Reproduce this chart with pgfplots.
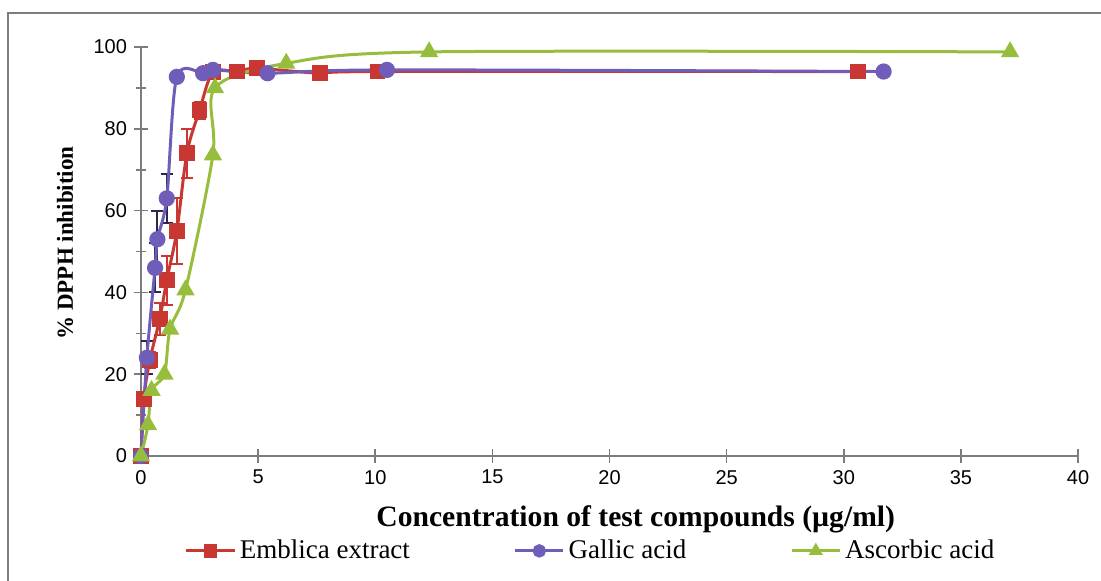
\documentclass[border=0pt]{standalone}
\usepackage{pgfplots}
\pgfplotsset{compat=1.18}
\usepackage{fontspec}
\setmainfont{Liberation Serif}
\newfontfamily\sansf{Liberation Sans}
\definecolor{cR}{RGB}{200,55,50}
\definecolor{cP}{RGB}{112,92,185}
\definecolor{cG}{RGB}{150,190,60}
\definecolor{cE}{RGB}{40,40,80}
\definecolor{axgray}{RGB}{125,125,125}
\begin{document}
\begin{tikzpicture}
\begin{axis}[
  at={(70.5pt,62pt)}, anchor=south west,
  scale only axis, width=468.5pt, height=204.5pt,
  xmin=0, xmax=40, ymin=0, ymax=100,
  axis x line=bottom, axis y line=left,
  axis line style={-, axgray, line width=0.8pt},
  xtick={0,5,...,40}, ytick={0,20,...,100}, minor ytick={10,30,...,90},
  tick align=center, major tick length=7pt, minor tick length=5pt,
  every tick/.style={axgray, line width=0.8pt},
  /pgf/number format/assume math mode=true,
  ticklabel style={font=\sansf\fontsize{10}{12}\selectfont, text=black},
  xlabel={\bfseries Concentration of test compounds (µg/ml)},
  ylabel={\bfseries \% DPPH inhibition},
  xlabel style={at={(axis description cs:0.528,-0.154)}, anchor=center, font=\fontsize{14.8}{17}\selectfont},
  ylabel style={at={(axis description cs:-0.0811,0.521)}, anchor=center, font=\fontsize{11.5}{14}\selectfont},
  legend columns=3,
  legend style={at={(axis description cs:0.481,-0.232)}, anchor=center, draw=none, fill=none,
    font=\fontsize{13.5}{15}\selectfont,
    /tikz/every even column/.append style={column sep=50pt}},
  legend image code/.code={\draw[mark repeat=2,mark phase=2,mark size=2.6pt] plot coordinates {(0cm,0cm)(0.42cm,0cm)(0.84cm,0cm)};},
  clip=false,
]
% error bars (only points with non-zero error)
\addplot[draw=none, forget plot, error bars/.cd, y dir=both, y explicit,
  error bar style={cR, line width=1pt}, error mark options={cR, line width=1pt, mark size=3pt, rotate=90}]
  table[x=x, y=y, y error=e] {
x y e
0.12 14 1.5
0.38 23.5 2
0.8 33.5 4
1.1 43 6
1.53 55 8
1.96 74 6
2.5 84.5 2
};
\addplot[draw=none, forget plot, error bars/.cd, y dir=both, y explicit,
  error bar style={cE, line width=1pt}, error mark options={cE, line width=1pt, mark size=3pt, rotate=90}]
  table[x=x, y=y, y error=e] {
x y e
0.25 24 4
0.6 46 6
0.7 53 7
1.1 63 6
};
\addplot[cR, line width=1.5pt, smooth, mark=square*, mark size=3.2pt, mark options={fill=cR, draw=cR}]
  table {
x y
0 0
0.12 14
0.38 23.5
0.8 33.5
1.1 43
1.53 55
1.96 74
2.5 84.5
3.07 93.8
4.1 94
4.95 94.8
7.64 93.6
10.1 94
30.6 94
};
\addlegendentry{Emblica extract}
\addplot[cP, line width=1.5pt, smooth, mark=*, mark size=3.3pt, mark options={fill=cP, draw=cP}]
  table {
x y
0 0
0.25 24
0.6 46
0.7 53
1.1 63
1.53 92.7
2.65 93.6
3.07 94.4
5.4 93.6
10.5 94.4
31.7 94
};
\addlegendentry{Gallic acid}
\addplot[cG, line width=1.5pt, smooth, mark=triangle*, mark size=3.8pt, mark options={fill=cG, draw=cG}]
  table {
x y
0 0
0.3 7.6
0.45 16
1.0 20
1.24 31
1.9 40.6
3.07 73.6
3.16 90
6.2 96
12.3 98.8
37.1 98.8
};
\addlegendentry{Ascorbic acid}
\end{axis}
\pgfresetboundingbox
\useasboundingbox (0,0) rectangle (550.5pt,290pt);
\draw[axgray, line width=1pt] (4pt,-5pt) -- (4pt,283.5pt) -- (560pt,283.5pt);
\end{tikzpicture}
\end{document}
